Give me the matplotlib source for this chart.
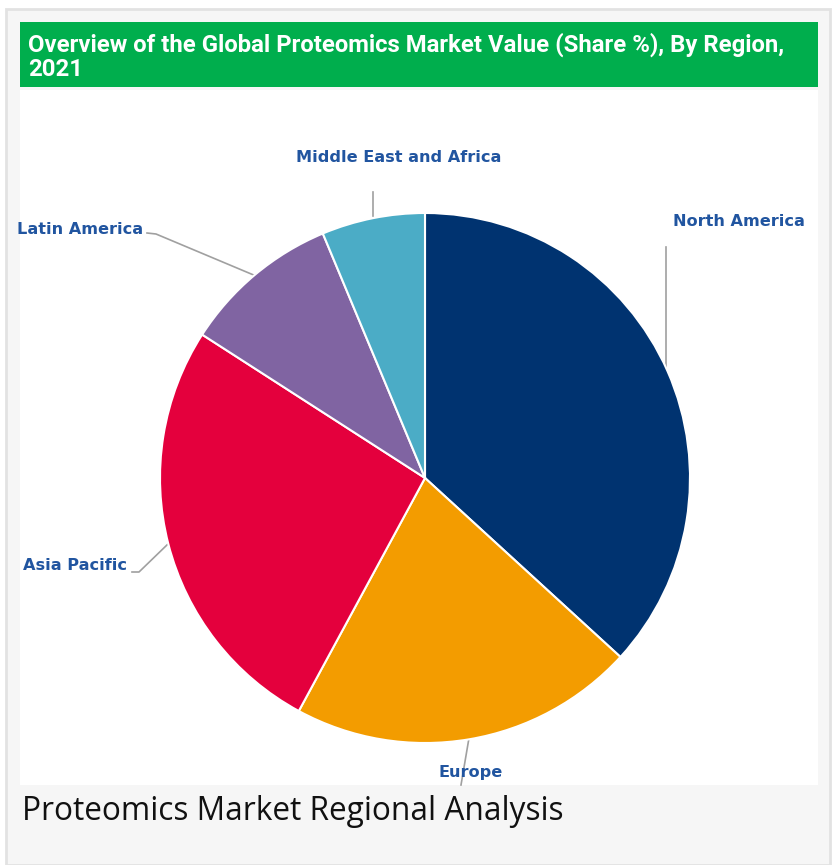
import matplotlib.pyplot as plt
import matplotlib.patches as mpatches

regions = ['North America', 'Europe', 'Asia Pacific', 'Latin America', 'Middle East and Africa']
shares = [36.8, 21.1, 26.2, 9.6, 6.3]
colors = ['#003370', '#f39c00', '#e4003d', '#8064a2', '#4bacc6']

title = 'Overview of the Global Proteomics Market Value (Share %), By Region,\n2021'
caption = 'Proteomics Market Regional Analysis'

W, H = 836, 865
fig = plt.figure(figsize=(W / 100, H / 100), dpi=100)
fig.patch.set_facecolor('white')

ax = fig.add_axes([0, 0, 1, 1])
ax.set_xlim(0, W)
ax.set_ylim(0, H)
ax.axis('off')

Y = lambda y: H - y  # pixel rows from top -> data y

# frame and panels
ax.add_patch(mpatches.Rectangle((6, Y(865)), 824, 865 - 9, facecolor='#f6f6f6',
                                edgecolor='#e2e2e2', linewidth=2, zorder=0))
ax.add_patch(mpatches.Rectangle((20, Y(785)), 798, 785 - 90, facecolor='white',
                                edgecolor='none', zorder=0.5))
ax.add_patch(mpatches.Rectangle((20, Y(87)), 798, 87 - 22, facecolor='#00ae4d',
                                edgecolor='none', zorder=0.5))

ax.text(28, Y(57), title, color='white', fontsize=17.2, fontweight='bold',
        family='Roboto', va='center', ha='left', linespacing=1.05, zorder=3)

ax.text(22, Y(812), caption, color='#111111', fontsize=22.8, family='Open Sans',
        va='center', ha='left', zorder=3)

# leader lines (behind pie)
lc = '#a0a0a0'
leaders = [
    [(666, 247), (666, 372)],
    [(373, 192), (373, 216)],
    [(147, 233), (156, 234), (256, 276)],
    [(132, 572), (139, 572), (169, 543)],
    [(469, 738), (461, 785)],
]
for pts in leaders:
    ax.plot([p[0] for p in pts], [Y(p[1]) for p in pts], color=lc, lw=1.2, zorder=1)

wedges, _ = ax.pie(shares, colors=colors, startangle=90, counterclock=False,
                   center=(425, Y(478)), radius=265, frame=True,
                   wedgeprops=dict(edgecolor='white', linewidth=1.5, zorder=2))
ax.set_xlim(0, W)
ax.set_ylim(0, H)
ax.axis('off')

lab = dict(color='#2155a0', fontsize=11.6, fontweight='bold', family='DejaVu Sans',
           va='center', zorder=4)
ax.text(673, Y(222), 'North America', ha='left', **lab)
ax.text(399, Y(157), 'Middle East and Africa', ha='center', **lab)
ax.text(143, Y(229), 'Latin America', ha='right', **lab)
ax.text(127, Y(566), 'Asia Pacific', ha='right', **lab)
ax.text(471, Y(772), 'Europe', ha='center', **lab)

fig.savefig('out.png', dpi=100, facecolor='white')
